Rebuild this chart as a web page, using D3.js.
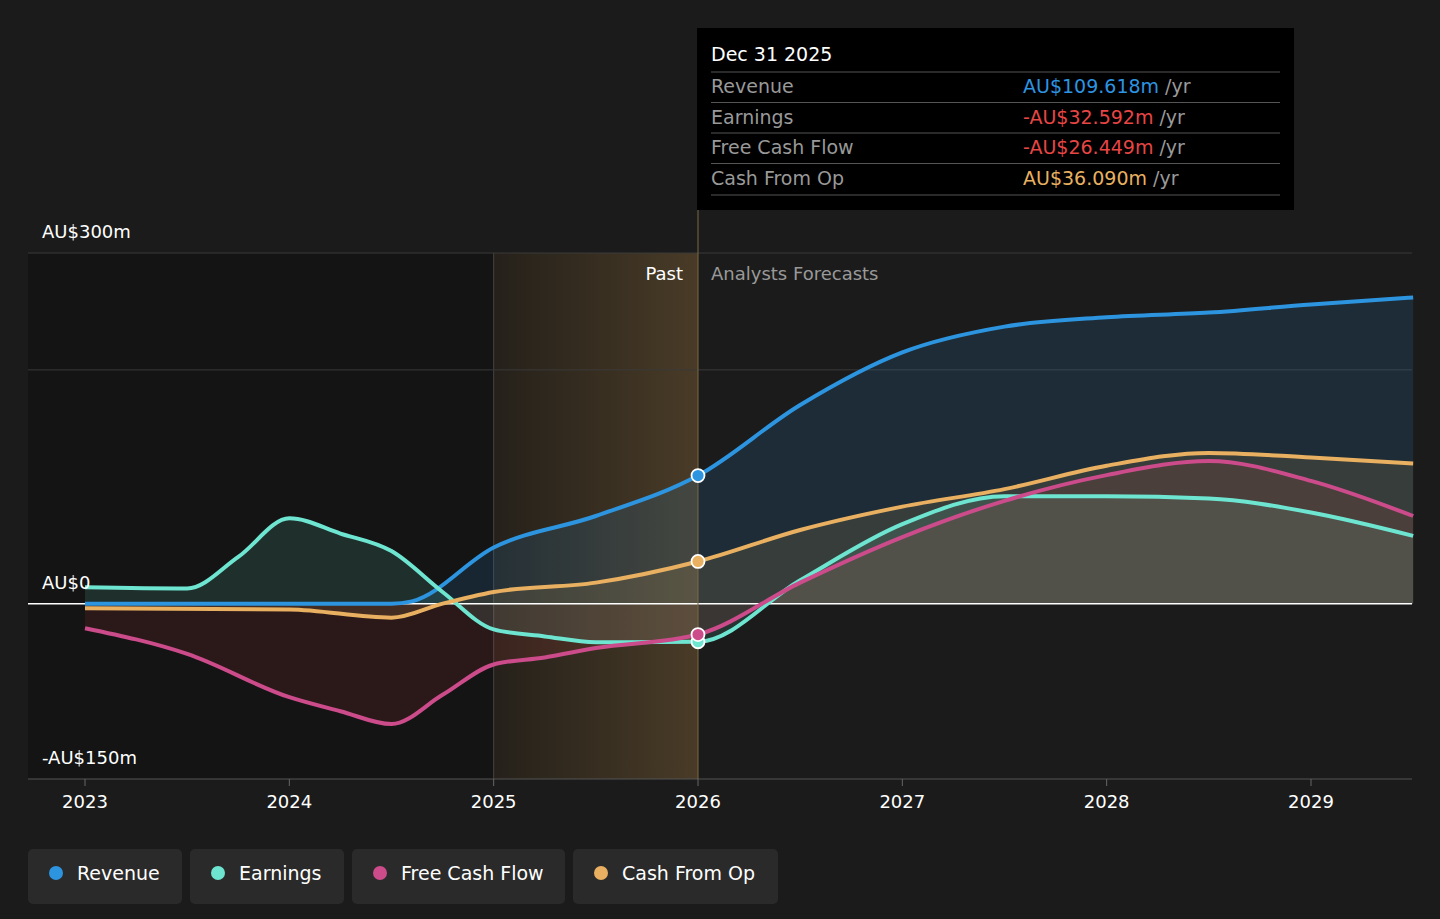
<!DOCTYPE html>
<html><head><meta charset="utf-8">
<script src="https://cdn.jsdelivr.net/npm/d3@7/dist/d3.min.js"></script>
<style>body{margin:0;background:#1b1b1b;font-family:"DejaVu Sans",sans-serif}</style>
</head><body><svg id="c" width="1440" height="919"></svg>
<script>
const yearTicks=[2023,2024,2025,2026,2027,2028,2029];
const gridValues=[300,200];
const revenueX=[2023,2023.5,2024,2024.5,2024.6,2025,2025.5,2026,2026.5,2027,2027.5,2028,2028.5,2029,2029.5];
const revenueY=[0,0,0,0,2,48,75,109.6,170,215,237,245,249,256,262];
const earningsX=[2023,2023.5,2023.75,2024,2024.25,2024.5,2024.75,2025,2025.25,2025.5,2026,2026.5,2027,2027.5,2028,2028.5,2029,2029.5];
const earningsY=[14,13,40,73,60,45,10,-22,-28,-33,-32.6,20,68,92,92,90,78,58];
const fcfX=[2023,2023.5,2024,2024.25,2024.5,2024.75,2025,2025.25,2025.5,2026,2026.5,2027,2027.5,2028,2028.5,2029,2029.5];
const fcfY=[-21,-43,-80,-92,-103,-78,-52,-46,-38,-26.4,18,57,88,110,122,105,75];
const cfoX=[2023,2024,2024.5,2024.75,2025,2025.5,2026,2026.5,2027,2027.5,2028,2028.5,2029,2029.5];
const cfoY=[-4,-5,-12,0,10,18,36.1,63,83,98,118,129,125,120];
const seriesNames=["Revenue","Earnings","Free Cash Flow","Cash From Op"];
const colors=["#2d94e0","#6ee5d0","#cc4b8a","#e8b060"];
const tipVals=["AU$109.618m","-AU$32.592m","-AU$26.449m","AU$36.090m"];
const tipCols=["#2d94e0","#e84545","#e84545","#e8b060"];

const svg=d3.select("#c");
const x=d3.scaleLinear().domain([2023,2029]).range([85,1311]);
const y=d3.scaleLinear().domain([-150,300]).range([779,253]);
const L=28,R=1412;
const defs=svg.append("defs");
svg.append("rect").attr("x",L).attr("y",253).attr("width",x(2026)-L).attr("height",526).attr("fill","#141414");
const hg=defs.append("linearGradient").attr("id","hl");
hg.append("stop").attr("offset","0").attr("stop-color","#e8b060").attr("stop-opacity",0.08);
hg.append("stop").attr("offset","1").attr("stop-color","#e8b060").attr("stop-opacity",0.25);
svg.append("rect").attr("x",x(2025)).attr("y",253).attr("width",x(2026)-x(2025)).attr("height",526).attr("fill","url(#hl)");
svg.append("line").attr("x1",x(2025)).attr("x2",x(2025)).attr("y1",253).attr("y2",779).attr("stroke","#444");
gridValues.forEach(v=>svg.append("line").attr("x1",L).attr("x2",R).attr("y1",y(v)).attr("y2",y(v)).attr("stroke","#3a3a3a"));
svg.append("line").attr("x1",L).attr("x2",R).attr("y1",y(-150)).attr("y2",y(-150)).attr("stroke","#555");
const data=[[revenueX,revenueY],[earningsX,earningsY],[fcfX,fcfY],[cfoX,cfoY]].map(([a,b])=>a.map((v,i)=>[v,b[i]]));
const area=d3.area().x(d=>x(d[0])).y0(y(0)).y1(d=>y(d[1])).curve(d3.curveMonotoneX);
const line=d3.line().x(d=>x(d[0])).y(d=>y(d[1])).curve(d3.curveMonotoneX);
data.forEach((d,i)=>{
  svg.append("path").attr("d",area(d)).attr("fill",i==2?"#cc3b3b":colors[i]).attr("fill-opacity",i==0?0.14:0.13);
});
svg.append("line").attr("x1",L).attr("x2",R).attr("y1",y(0)).attr("y2",y(0)).attr("stroke","#fff").attr("stroke-width",1.5);
data.forEach((d,i)=>svg.append("path").attr("d",line(d)).attr("fill","none").attr("stroke",colors[i]).attr("stroke-width",4));
svg.append("line").attr("x1",x(2026)).attr("x2",x(2026)).attr("y1",28).attr("y2",779).attr("stroke","#7a6a45");
const at=[109.6,-32.6,-26.4,36.1];
[1,2,0,3].forEach(i=>svg.append("circle").attr("cx",x(2026)).attr("cy",y(at[i])).attr("r",6.5).attr("fill",colors[i]).attr("stroke","#fff").attr("stroke-width",1.8));
const t=(X,Y,s,c,sz,a)=>svg.append("text").attr("x",X).attr("y",Y).text(s).attr("fill",c).attr("font-size",sz||18).attr("text-anchor",a||"start");
t(42,238,"AU$300m","#fff");t(42,589,"AU$0","#fff");t(42,764,"-AU$150m","#fff");
yearTicks.forEach(v=>{t(x(v),808,v,"#fff",18,"middle");svg.append("line").attr("x1",x(v)).attr("x2",x(v)).attr("y1",779).attr("y2",786).attr("stroke","#666");});
t(683,280,"Past","#fff",18,"end");t(711,280,"Analysts Forecasts","#999",18);
svg.append("rect").attr("x",697).attr("y",28).attr("width",597).attr("height",182).attr("fill","#000");
t(711,61,"Dec 31 2025","#fff",19);
seriesNames.forEach((n,i)=>{const yy=93+i*30.5;
  svg.append("line").attr("x1",711).attr("x2",1280).attr("y1",yy-21).attr("y2",yy-21).attr("stroke","#555");
  t(711,yy,n,"#999",19);
  const tx=t(1023,yy,"","#fff",19);tx.append("tspan").text(tipVals[i]).attr("fill",tipCols[i]);tx.append("tspan").text(" /yr").attr("fill","#999");});
svg.append("line").attr("x1",711).attr("x2",1280).attr("y1",195).attr("y2",195).attr("stroke","#555");
const lw=[154,154,213,205];let lx=28;
seriesNames.forEach((n,i)=>{svg.append("rect").attr("x",lx).attr("y",849).attr("width",lw[i]).attr("height",55).attr("rx",5).attr("fill","#2a2a2a");
  svg.append("circle").attr("cx",lx+28).attr("cy",873).attr("r",7).attr("fill",colors[i]);
  t(lx+49,880,n,"#fff",19);lx+=lw[i]+8;});
</script></body></html>
